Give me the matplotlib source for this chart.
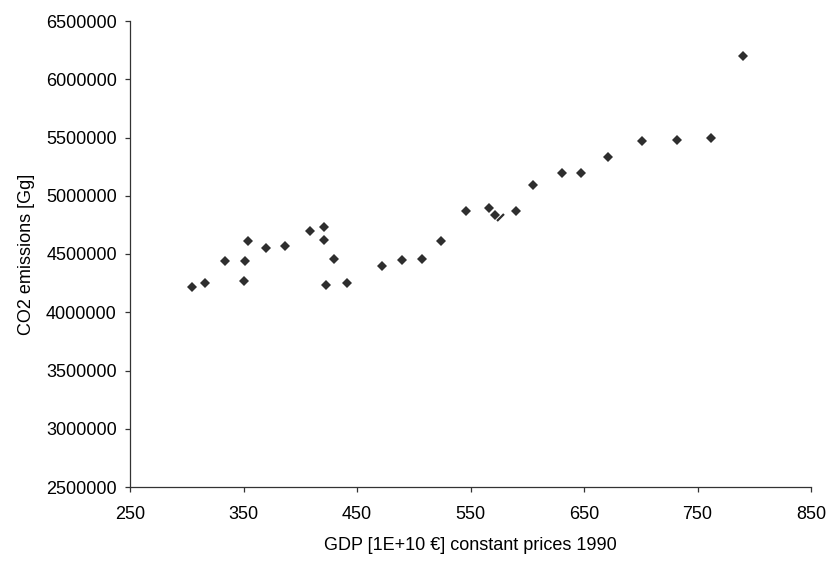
"""GDP vs CO2 emissions scatter (Excel-style)."""
import matplotlib
matplotlib.use("Agg")
import matplotlib.pyplot as plt

# GDP [1E+10 EUR], constant prices 1990
gdp = [305, 316, 334, 350, 351, 354, 370, 387, 409, 421,
       421, 423, 430, 441, 472, 490, 507, 524, 546, 566,
       572, 590, 605, 631, 647, 671, 701, 732, 762, 790]
# CO2 emissions [Gg]
co2 = [4219000, 4251000, 4443000, 4268000, 4443000, 4612000, 4549000, 4566000, 4700000, 4732000,
       4623000, 4234000, 4460000, 4251000, 4399000, 4445000, 4460000, 4612000, 4866000, 4897000,
       4835000, 4866000, 5090000, 5195000, 5195000, 5333000, 5470000, 5478000, 5496000, 6200000]
# half-hidden marker fragment next to the 572 point
frag_gdp = [576]
frag_co2 = [4818000]

x_ticks = [250, 350, 450, 550, 650, 750, 850]
y_ticks = [2500000, 3000000, 3500000, 4000000, 4500000,
           5000000, 5500000, 6000000, 6500000]

plt.rcParams["font.family"] = ["Liberation Sans", "DejaVu Sans"]

fig = plt.figure(figsize=(8.31, 5.62), dpi=100)
ax = fig.add_axes([130 / 831, 1 - 487 / 562, 681 / 831, 466 / 562])

ax.plot(gdp, co2, linestyle="none", marker="D", markersize=5.5,
        color="#2e2e2e", markeredgewidth=0)
ax.plot(frag_gdp, frag_co2, linestyle="none", marker=[(-1, -1), (1, 1)],
        markersize=5, color="#2e2e2e", markeredgewidth=1.6)

ax.set_xlim(250, 850)
ax.set_ylim(2500000, 6500000)
ax.set_xticks(x_ticks)
ax.set_yticks(y_ticks)
ax.set_xticklabels([str(v) for v in x_ticks])
ax.set_yticklabels([str(v) for v in y_ticks])

for side in ("top", "right"):
    ax.spines[side].set_visible(False)
for side in ("left", "bottom"):
    ax.spines[side].set_color("#333333")
    ax.spines[side].set_linewidth(0.9)
ax.tick_params(direction="out", length=3.5, width=0.9, color="#333333",
               labelsize=13)
ax.tick_params(axis="y", pad=6)
ax.tick_params(axis="x", pad=10)

ax.set_xlabel("GDP [1E+10 \u20ac] constant prices 1990", fontsize=13, labelpad=10)
ax.set_ylabel("CO2 emissions [Gg]", fontsize=13, labelpad=8)

fig.savefig("out.png", dpi=100)
